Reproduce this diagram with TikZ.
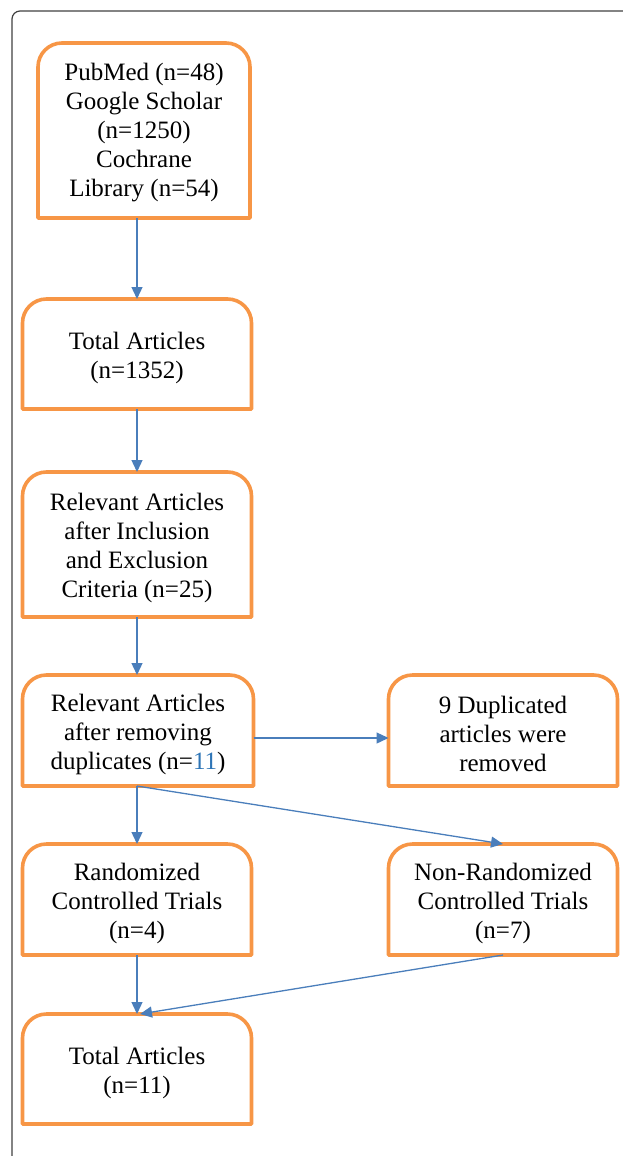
\documentclass[tikz,border=0pt]{standalone}
\usepackage{fontspec}
\setmainfont{Liberation Serif}
\usetikzlibrary{arrows.meta,calc}
\definecolor{boxorange}{HTML}{F79646}
\definecolor{arrowblue}{HTML}{4A7EBB}
\definecolor{numblue}{HTML}{2E75B6}
\definecolor{framegray}{HTML}{404040}
\tikzset{
  txt/.style={align=center, inner sep=0pt, font=\fontsize{25}{29}\selectfont},
  boxline/.style={draw=boxorange, line width=3.6pt, line join=round},
  conn/.style={draw=arrowblue, line width=1.3pt, -{Triangle[length=12pt,width=11pt]}},
  frame/.style={draw=framegray, line width=1.2pt, rounded corners=8pt}
}
\newcommand{\obox}[3]{% name, width, height
  \path (#1.center) ++(-#2/2,#3/2) coordinate (#1-sw)
        (#1.center) ++(-#2/2,-#3/2) coordinate (#1-nw)
        (#1.center) ++(#2/2,-#3/2) coordinate (#1-ne)
        (#1.center) ++(#2/2,#3/2) coordinate (#1-se);
  \draw[boxline] (#1-sw) -- ([yshift=-24pt]#1-nw) arc[start angle=180,end angle=90,radius=24pt]
     -- ([xshift=-24pt]#1-ne) arc[start angle=90,end angle=0,radius=24pt] -- (#1-se) -- cycle;
  \coordinate (#1-top) at ($(#1-nw)!0.5!(#1-ne)$);
}
\begin{document}
\begin{tikzpicture}[x=1pt,y=-1pt]
\useasboundingbox (0,0) rectangle (622,1156);
\draw[frame] (12,1170) -- (12,11) -- (640,11);

\node[txt] (b1) at (144,133) {PubMed (n=48)\\Google Scholar\\(n=1250)\\Cochrane\\Library (n=54)};
\node[txt] (b2) at (137,358) {Total Articles\\(n=1352)};
\node[txt] (b3) at (137,548) {Relevant Articles\\after Inclusion\\and Exclusion\\Criteria (n=25)};
\node[txt] (b4) at (138,734) {Relevant Articles\\after removing\\duplicates (n=\textcolor{numblue}{11})};
\node[txt] (dup) at (503,734) {9 Duplicated\\articles were\\removed};
\node[txt] (rct) at (137,903) {Randomized\\Controlled Trials\\(n=4)};
\node[txt] (nrct) at (503,903) {Non-Randomized\\Controlled Trials\\(n=7)};
\node[txt] (fin) at (137,1073) {Total Articles\\(n=11)};

\coordinate (c1) at (144,130.5);
\coordinate (c2) at (137,354);
\coordinate (c3) at (137,544.5);
\coordinate (c4) at (138,730.5);
\coordinate (c5) at (503,730.5);
\coordinate (c6) at (137,899.5);
\coordinate (c7) at (503,899.5);
\coordinate (c8) at (137,1069);
\obox{c1}{212}{175}
\obox{c2}{229}{110}
\obox{c3}{229}{145}
\obox{c4}{231}{111}
\obox{c5}{229}{111}
\obox{c6}{229}{111}
\obox{c7}{229}{111}
\obox{c8}{229}{110}

\draw[conn] (c2-top |- c1-sw) -- (c2-top);
\draw[conn] (c2-top |- c2-sw) -- (c3-top);
\draw[conn] (c3-top |- c3-sw) -- (c3-top |- c4-nw);
\draw[conn] (c4-ne |- 0,738) -- (c5-nw |- 0,738);
\coordinate (b4out) at (c3-top |- c4-sw);
\draw[conn] (b4out) -- (c6-top);
\draw[conn] (b4out) -- (c7-top);
\coordinate (nrout) at (c7-top |- c7-sw);
\draw[conn] (c6-top |- c6-sw) -- (c8-top);
\draw[conn] (nrout) -- ([xshift=3pt]c8-top);
\end{tikzpicture}
\end{document}
